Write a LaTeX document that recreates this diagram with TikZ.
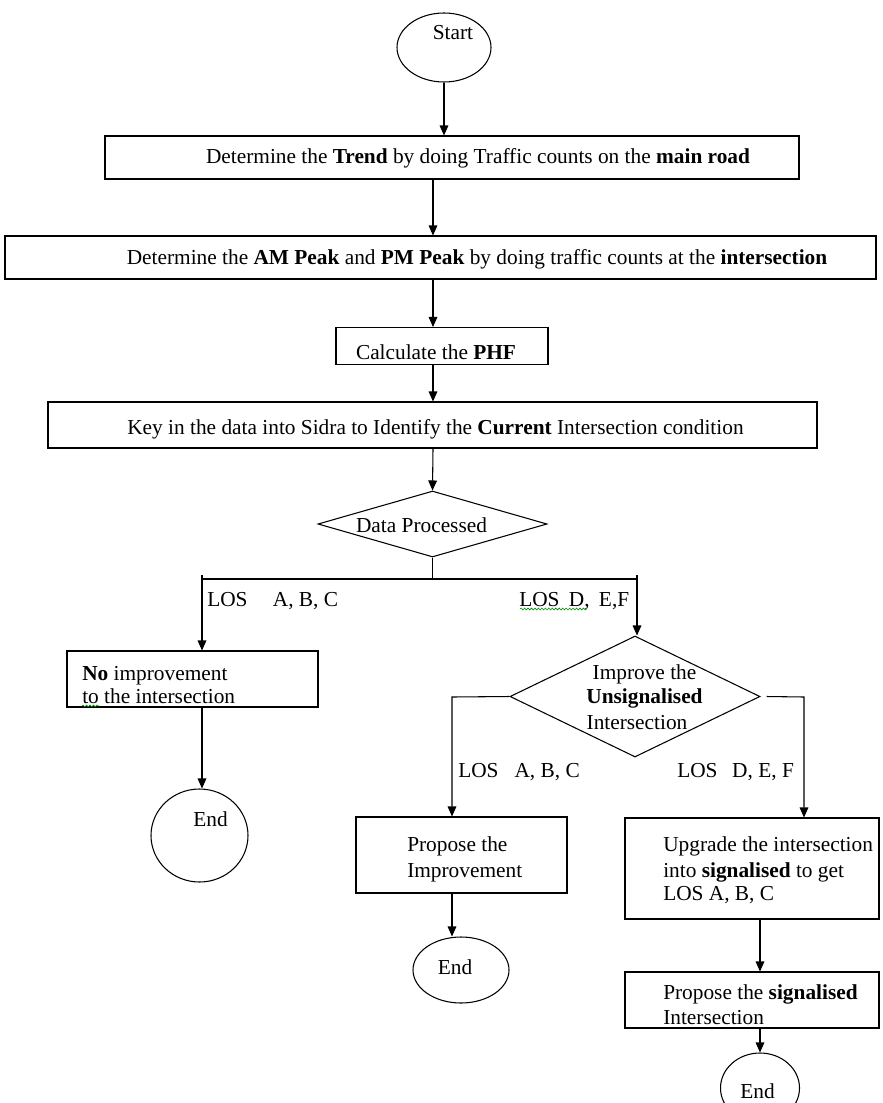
\documentclass[tikz,border=0pt]{standalone}
\usepackage{fontspec}
\setmainfont{Liberation Serif}
\usetikzlibrary{arrows.meta,shapes.geometric,decorations.pathmorphing}
\begin{document}
\begin{tikzpicture}[x=0.75pt,y=-0.75pt,
  box/.style={draw, rectangle, line width=0.8pt, inner sep=0pt},
  oval/.style={draw, ellipse, line width=0.8pt, inner sep=0pt},
  dia/.style={draw, diamond, line width=0.8pt, inner sep=0pt},
  txt/.style={font=\fontsize{16}{19}\selectfont, inner sep=0pt},
  ln/.style={line width=0.8pt},
  arr/.style={line width=0.8pt, -{Triangle[length=7.5pt,width=6.5pt]}},
  squig/.style={draw=green!55!black, line width=0.45pt, decorate, decoration={snake, amplitude=0.7pt, segment length=2.6pt}}
]
\fill[white] (0,0) rectangle (882,1103);
\useasboundingbox (0,0) rectangle (882,1103);
\clip (0,0) rectangle (882,1103);

% helper coordinates
\coordinate (cx) at (433,0);
\coordinate (cc) at (760,0);
\coordinate (jl) at (202,579);
\coordinate (jr) at (637,579);
\coordinate (jlt) at (202,575);
\coordinate (jrt) at (637,575);
\coordinate (cl) at (452,697);
\coordinate (cr) at (804,697);

% shapes
\node[oval, minimum width={94*0.75pt}, minimum height={69*0.75pt}] (start) at (444,47.5) {};
\node[box, minimum width={694*0.75pt}, minimum height={43*0.75pt}] (b1) at (452,157.5) {};
\node[box, minimum width={871*0.75pt}, minimum height={43*0.75pt}] (b2) at (440.5,257.5) {};
\node[box, minimum width={212*0.75pt}, minimum height={37*0.75pt}] (b3) at (442,346) {};
\node[box, minimum width={769*0.75pt}, minimum height={46*0.75pt}] (b4) at (432.5,425) {};
\node[dia, minimum width={229*0.75pt}, minimum height={66*0.75pt}] (d1) at (432.5,524) {};
\node[box, minimum width={251*0.75pt}, minimum height={56*0.75pt}] (b5) at (192.5,679) {};
\node[oval, minimum width={97*0.75pt}, minimum height={93*0.75pt}] (e1) at (199.5,835.5) {};
\node[dia, minimum width={250*0.75pt}, minimum height={121*0.75pt}] (d2) at (635,696.5) {};
\node[box, minimum width={211*0.75pt}, minimum height={76*0.75pt}] (b6) at (461.5,855) {};
\node[oval, minimum width={96*0.75pt}, minimum height={66*0.75pt}] (e2) at (461,970) {};
\node[box, minimum width={254*0.75pt}, minimum height={101*0.75pt}] (b7) at (752,868.5) {};
\node[box, minimum width={254*0.75pt}, minimum height={56*0.75pt}] (b8) at (752,1000) {};
\node[oval, minimum width={79*0.75pt}, minimum height={70*0.75pt}] (e3) at (760,1088) {};

% texts
\node[txt, anchor=base] (tstart) at (453,39.5) {Start};
\node[txt, anchor=base] (t1) at (478,163.5) {Determine the \textbf{Trend} by doing Traffic counts on the \textbf{main road}};
\node[txt, anchor=base] (t2) at (477,264.5) {Determine the \textbf{AM Peak} and \textbf{PM Peak} by doing traffic counts at the \textbf{intersection}};
\node[txt, anchor=base] (t3) at (436,359.5) {Calculate the \textbf{PHF}};
\node[txt, anchor=base] (t4) at (435.5,434.5) {Key in the data into Sidra to Identify the \textbf{Current} Intersection condition};
\node[txt, anchor=base] (td1) at (421.5,532.5) {Data Processed};
\node[txt, anchor=base west] (lab1) at (207,606.5) {LOS\hspace{19pt}A, B, C};
\node[txt, anchor=base west] (lab2) at (519,606.5) {LOS\hspace{7pt}D,\hspace{7pt}E,F};
\node[txt, anchor=base west] (t5a) at (82,680) {\textbf{No} improvement};
\node[txt, anchor=base west] (t5b) at (82,703) {to the intersection};
\node[txt, anchor=base] (te1) at (210.5,826.5) {End};
\node[txt, anchor=base] (td2a) at (644.5,679.5) {Improve the};
\node[txt, anchor=base] (td2b) at (644.5,703.5) {\textbf{Unsignalised}};
\node[txt, anchor=base] (td2c) at (637,729.5) {Intersection};
\node[txt, anchor=base west] (lab3) at (458,777.5) {LOS\hspace{12pt}A, B, C};
\node[txt, anchor=base west] (lab4) at (677,777.5) {LOS\hspace{11pt}D, E, F};
\node[txt, anchor=base west] (t6a) at (407,851.5) {Propose the};
\node[txt, anchor=base west] (t6b) at (407,877.5) {Improvement};
\node[txt, anchor=base] (te2) at (455,974.5) {End};
\node[txt, anchor=base west] (t7a) at (663,851.5) {Upgrade the intersection};
\node[txt, anchor=base west] (t7b) at (663,877.5) {into \textbf{signalised} to get};
\node[txt, anchor=base west] (t7c) at (663,900.5) {LOS A, B, C};
\node[txt, anchor=base west] (t8a) at (663,999.5) {Propose the \textbf{signalised}};
\node[txt, anchor=base west] (t8b) at (663,1024.5) {Intersection};
\node[txt, anchor=base] (te3) at (757.5,1098.5) {End};

% spell-check marks
\path[squig] (520,609) -- (587,609);
\path[squig] (82,706) -- (99,706);

% connectors
\draw[arr] (start.south) -- (start.south |- b1.north);
\draw[arr] (b1.south -| cx) -- (b2.north -| cx);
\draw[arr] (b2.south -| cx) -- (b3.north -| cx);
\draw[arr] (b3.south -| cx) -- (b4.north -| cx);
\draw[arr] (b4.south -| cx) -- (d1.north);
\draw[ln] (d1.south) -- (d1.south |- jl);
\draw[ln] (jl) -- (jr);
\draw[arr] (jlt) -- (jlt |- b5.north);
\draw[arr] (jrt) -- (jrt |- d2.north);
\draw[arr] (jl |- b5.south) -- (jl |- e1.north);
\draw[arr] (d2.west) -- (cl) -- (cl |- b6.north);
\draw[arr] ([xshift=4.5pt]d2.east) -- (cr) -- (cr |- b7.north);
\draw[arr] (cl |- b6.south) -- (cl |- e2.north);
\draw[arr] (b7.south -| cc) -- (b8.north -| cc);
\draw[arr] (b8.south -| cc) -- (e3.north);
\end{tikzpicture}
\end{document}
